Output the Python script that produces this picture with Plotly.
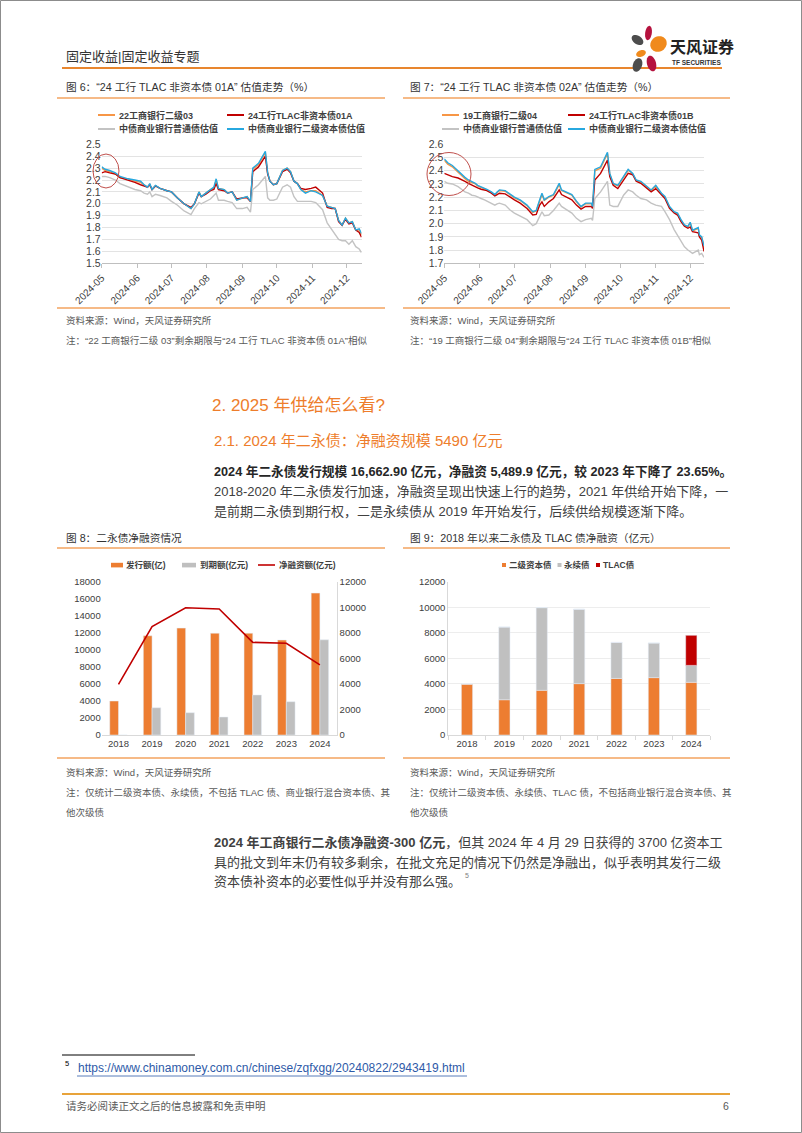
import math
import plotly.graph_objects as go

# ---------------- DATA ----------------
months = ["2024-05-01", "2024-06-01", "2024-07-01", "2024-08-01",
          "2024-09-01", "2024-10-01", "2024-11-01", "2024-12-01"]

# Figure 6
dates1 = ["2024-05-01","2024-05-04","2024-05-08","2024-05-13","2024-05-17","2024-05-24","2024-05-30",
          "2024-06-04","2024-06-07","2024-06-10","2024-06-12","2024-06-14","2024-06-17","2024-06-21","2024-06-27",
          "2024-07-01","2024-07-06","2024-07-12","2024-07-18","2024-07-21","2024-07-25","2024-07-27","2024-07-31",
          "2024-08-04","2024-08-07","2024-08-09","2024-08-11","2024-08-16","2024-08-19","2024-08-23","2024-08-27",
          "2024-09-01","2024-09-05","2024-09-08","2024-09-10","2024-09-15","2024-09-21","2024-09-23","2024-09-25","2024-09-28",
          "2024-10-01","2024-10-06","2024-10-10","2024-10-13","2024-10-16","2024-10-19","2024-10-22","2024-10-26","2024-10-31",
          "2024-11-04","2024-11-10","2024-11-14","2024-11-18","2024-11-21","2024-11-24","2024-11-27","2024-11-30",
          "2024-12-03","2024-12-06","2024-12-09","2024-12-12","2024-12-14"]
icbc22_03 = [2.30,2.28,2.27,2.25,2.22,2.21,2.19,2.18,2.16,2.14,2.16,2.12,2.15,2.13,2.11,2.10,2.05,2.00,1.96,2.00,
             2.10,2.06,2.09,2.12,2.13,2.20,2.13,2.12,2.09,2.10,2.03,2.05,2.06,2.02,2.29,2.33,2.43,2.26,2.19,2.16,
             2.17,2.28,2.30,2.27,2.19,2.17,2.12,2.10,2.11,2.11,2.07,1.98,1.97,1.96,1.86,1.82,1.88,1.84,1.85,1.78,
             1.78,1.74]
tlac01a = [2.26,2.27,2.26,2.25,2.22,2.20,2.18,2.16,2.15,2.14,2.16,2.12,2.15,2.13,2.11,2.10,2.05,2.00,1.97,2.00,
           2.09,2.06,2.08,2.11,2.12,2.17,2.12,2.11,2.09,2.10,2.04,2.05,2.05,2.02,2.27,2.31,2.40,2.25,2.19,2.16,
           2.17,2.27,2.29,2.26,2.19,2.17,2.13,2.12,2.13,2.14,2.09,1.97,1.96,1.96,1.85,1.82,1.87,1.83,1.84,1.78,
           1.76,1.72]
senior1 = [2.23,2.23,2.22,2.20,2.17,2.14,2.12,2.11,2.09,2.08,2.10,2.06,2.08,2.07,2.05,2.02,1.99,1.94,1.91,1.96,
           2.01,2.00,2.02,2.04,2.07,2.09,2.03,2.03,2.02,2.01,1.96,1.96,1.97,1.93,2.12,2.16,2.23,2.05,2.03,2.03,
           2.04,2.14,2.16,2.14,2.06,2.02,2.02,2.02,2.02,2.01,1.95,1.84,1.78,1.74,1.70,1.69,1.69,1.66,1.69,1.64,
           1.62,1.59]
tier2_1 = [2.31,2.29,2.28,2.26,2.23,2.21,2.20,2.19,2.16,2.14,2.17,2.12,2.155,2.13,2.11,2.10,2.05,2.00,1.96,2.00,
           2.10,2.06,2.09,2.12,2.14,2.21,2.13,2.12,2.09,2.10,2.03,2.05,2.06,2.02,2.30,2.34,2.44,2.26,2.19,2.16,
           2.17,2.28,2.30,2.27,2.19,2.17,2.12,2.09,2.11,2.10,2.07,1.98,1.97,1.96,1.86,1.82,1.88,1.84,1.85,1.78,
           1.79,1.75]

# Figure 7
dates2 = ["2024-05-01","2024-05-04","2024-05-08","2024-05-13","2024-05-16","2024-05-19","2024-05-22","2024-05-25","2024-05-28","2024-05-30",
          "2024-06-02","2024-06-05","2024-06-07","2024-06-11","2024-06-14","2024-06-16","2024-06-18","2024-06-23","2024-06-27",
          "2024-07-01","2024-07-06","2024-07-12","2024-07-17","2024-07-20","2024-07-23","2024-07-25","2024-07-27","2024-07-31",
          "2024-08-04","2024-08-09","2024-08-11","2024-08-15","2024-08-20","2024-08-24","2024-08-28",
          "2024-09-01","2024-09-06","2024-09-07","2024-09-09","2024-09-14","2024-09-20","2024-09-22","2024-09-25","2024-09-29",
          "2024-10-04","2024-10-08","2024-10-12","2024-10-15","2024-10-19","2024-10-24","2024-10-28",
          "2024-11-01","2024-11-06","2024-11-09","2024-11-13","2024-11-17","2024-11-20","2024-11-23","2024-11-26","2024-11-29",
          "2024-12-01","2024-12-03","2024-12-08","2024-12-09","2024-12-11","2024-12-13"]
icbc19_04 = [2.48,2.45,2.43,2.39,2.36,2.34,2.32,2.31,2.30,2.285,2.275,2.265,2.255,2.235,2.215,2.235,2.25,2.245,2.22,2.195,
             2.175,2.135,2.085,2.095,2.17,2.22,2.175,2.20,2.215,2.295,2.25,2.235,2.215,2.165,2.125,2.15,2.15,2.125,2.40,2.42,
             2.53,2.375,2.30,2.285,2.355,2.405,2.375,2.325,2.315,2.275,2.25,2.285,2.225,2.20,2.125,2.085,2.075,2.025,1.985,1.975,
             2.005,1.945,1.965,1.91,1.895,1.825]
tlac01b = [2.38,2.37,2.355,2.345,2.335,2.32,2.305,2.29,2.28,2.27,2.26,2.255,2.25,2.23,2.21,2.22,2.23,2.225,2.20,2.18,
           2.155,2.115,2.065,2.07,2.14,2.165,2.13,2.165,2.19,2.255,2.22,2.205,2.18,2.14,2.11,2.13,2.13,2.115,2.33,2.38,
           2.48,2.355,2.29,2.265,2.33,2.38,2.37,2.32,2.305,2.265,2.24,2.265,2.215,2.19,2.115,2.08,2.065,2.015,1.98,1.965,
           1.975,1.94,1.93,1.90,1.875,1.79]
senior2 = [2.32,2.305,2.30,2.28,2.26,2.24,2.23,2.215,2.21,2.20,2.19,2.18,2.17,2.155,2.14,2.15,2.155,2.14,2.105,2.08,
           2.055,2.03,1.985,2.00,2.055,2.09,2.06,2.065,2.10,2.155,2.13,2.105,2.08,2.04,2.015,2.03,2.04,2.025,2.19,2.24,
           2.32,2.14,2.13,2.13,2.215,2.255,2.24,2.215,2.19,2.18,2.155,2.14,2.13,2.09,2.03,1.955,1.915,1.875,1.825,1.80,
           1.79,1.775,1.80,1.765,1.775,1.745]
tier2_2 = [2.49,2.46,2.44,2.40,2.37,2.35,2.33,2.32,2.305,2.29,2.28,2.27,2.26,2.24,2.22,2.24,2.255,2.25,2.225,2.20,
           2.18,2.14,2.09,2.10,2.18,2.23,2.18,2.205,2.22,2.305,2.255,2.24,2.22,2.17,2.13,2.155,2.155,2.13,2.41,2.43,
           2.54,2.38,2.305,2.29,2.36,2.41,2.38,2.33,2.32,2.28,2.255,2.29,2.23,2.205,2.13,2.09,2.08,2.03,1.99,1.98,
           2.01,1.95,1.97,1.915,1.90,1.83]

# Figure 8
years = ["2018", "2019", "2020", "2021", "2022", "2023", "2024"]
issuance = [3990, 11650, 12550, 11950, 11950, 11150, 16662.9]
maturity = [0, 3200, 2620, 2110, 4700, 3910, 11173]
net_financing = [3970, 8480, 9960, 9860, 7250, 7180, 5489.9]

# Figure 9
tier2_net = [3990, 2760, 3500, 4020, 4430, 4490, 4120]
perp_net = [0, 5690, 6470, 5820, 2820, 2710, 1330]
tlac_net = [0, 0, 0, 0, 0, 0, 2350]

# ---------------- HELPERS ----------------
W, H = 802, 1133
FONT = "Liberation Sans, Noto Sans CJK SC, sans-serif"
CJK = "Noto Sans CJK SC, sans-serif"
ORANGE = "#ED7D31"
RED = "#C00000"
GRAY = "#BFBFBF"
BLUE = "#27A8DF"
LORANGE = "#F79646"
TXT = "#404040"

def px(x):
    return x / W

def py(y):
    return 1 - y / H

ann = []
shp = []

def text(x, y, s, size=10, color=TXT, anchor="left", family=FONT):
    ann.append(dict(x=px(x), y=py(y), xref="paper", yref="paper", text=s, showarrow=False,
                    xanchor=anchor, yanchor="middle", borderpad=0,
                    font=dict(size=size, color=color, family=family)))

def line(x0, y0, x1, y1, color, width=1):
    shp.append(dict(type="line", xref="paper", yref="paper", x0=px(x0), y0=py(y0),
                    x1=px(x1), y1=py(y1), line=dict(color=color, width=width)))

def rect(x0, y0, x1, y1, fill, lc=None, lw=0):
    shp.append(dict(type="rect", xref="paper", yref="paper", x0=px(x0), y0=py(y0),
                    x1=px(x1), y1=py(y1), fillcolor=fill,
                    line=dict(color=lc or fill, width=lw)))

def ellipse(cx, cy, rx, ry, color, width=1):
    shp.append(dict(type="circle", xref="paper", yref="paper", x0=px(cx - rx), x1=px(cx + rx),
                    y0=py(cy + ry), y1=py(cy - ry), line=dict(color=color, width=width)))

def petal(cx, cy, rx, ry, ang, color):
    pts = []
    a = math.radians(ang)
    for k in range(36):
        t = 2 * math.pi * k / 36
        ex, ey = rx * math.cos(t), ry * math.sin(t)
        x = cx + ex * math.cos(a) - ey * math.sin(a)
        y = cy + ex * math.sin(a) + ey * math.cos(a)
        pts.append((px(x), py(y)))
    path = "M " + " L ".join(f"{x:.5f},{y:.5f}" for x, y in pts) + " Z"
    shp.append(dict(type="path", xref="paper", yref="paper", path=path,
                    fillcolor=color, line=dict(width=0)))

fig = go.Figure()

# ---------------- TRACES ----------------
for vals, col in [(icbc22_03, LORANGE), (tlac01a, RED), (senior1, "#C3C3C3"), (tier2_1, BLUE)]:
    fig.add_trace(go.Scatter(x=dates1, y=vals, mode="lines", line=dict(color=col, width=1.4),
                             xaxis="x", yaxis="y", hoverinfo="skip"))
for vals, col in [(icbc19_04, LORANGE), (tlac01b, RED), (senior2, "#C3C3C3"), (tier2_2, BLUE)]:
    fig.add_trace(go.Scatter(x=dates2, y=vals, mode="lines", line=dict(color=col, width=1.4),
                             xaxis="x2", yaxis="y2", hoverinfo="skip"))

fig.add_trace(go.Bar(x=years, y=issuance, marker_color=ORANGE, width=0.26, offset=-0.26,
                     xaxis="x3", yaxis="y3", hoverinfo="skip"))
fig.add_trace(go.Bar(x=years, y=maturity, marker_color=GRAY, width=0.26, offset=0,
                     xaxis="x3", yaxis="y3", hoverinfo="skip"))
fig.add_trace(go.Scatter(x=years, y=net_financing, mode="lines", line=dict(color=RED, width=1.6),
                         xaxis="x3", yaxis="y5", hoverinfo="skip"))

base_perp = list(tier2_net)
base_tlac = [a + b for a, b in zip(tier2_net, perp_net)]
fig.add_trace(go.Bar(x=years, y=tier2_net, base=0, marker_color=ORANGE, width=0.3, offset=-0.15,
                     xaxis="x4", yaxis="y4", hoverinfo="skip"))
fig.add_trace(go.Bar(x=years, y=perp_net, base=base_perp, marker_color="#C0C0C0", width=0.3, offset=-0.15,
                     xaxis="x4", yaxis="y4", hoverinfo="skip"))
fig.add_trace(go.Bar(x=years, y=tlac_net, base=base_tlac, marker_color=RED, width=0.3, offset=-0.15,
                     xaxis="x4", yaxis="y4", hoverinfo="skip"))

# ---------------- AXES ----------------
tickf = dict(size=10, color=TXT, family=FONT)
def date_x(dom, anchor, rng):
    return dict(domain=dom, anchor=anchor, type="date", range=rng, tickvals=months,
                tickformat="%Y-%m", tickangle=-45, ticks="outside", ticklen=4, tickcolor="#BFBFBF",
                showline=True, linecolor="#BFBFBF", showgrid=False, zeroline=False, tickfont=tickf,
                fixedrange=True, automargin=False)

def val_y(dom, anchor, rng, t0):
    return dict(domain=dom, anchor=anchor, range=rng, tick0=t0, dtick=0.1, tickformat=".1f",
                showgrid=True, gridcolor="#E3E3E3", gridwidth=1, showline=False, zeroline=False,
                tickfont=dict(size=10.5, color=TXT, family=FONT), fixedrange=True, automargin=False)

bfont = dict(size=9.5, color=TXT, family=FONT)
layout = dict(
    width=W, height=H, margin=dict(l=0, r=0, t=0, b=0, pad=0, autoexpand=False),
    paper_bgcolor="white", plot_bgcolor="white", showlegend=False, barmode="overlay",
    xaxis=date_x([px(101.7), px(361.5)], "y", ["2024-05-01", "2024-12-14"]),
    yaxis=val_y([py(263.3), py(144.3)], "x", [1.5, 2.5], 1.5),
    xaxis2=date_x([px(444.3), px(704)], "y2", ["2024-05-01", "2024-12-13"]),
    yaxis2=val_y([py(263.3), py(144.3)], "x2", [1.7, 2.6], 1.7),
    xaxis3=dict(domain=[px(101.7), px(336.7)], anchor="y3", type="category", range=[-0.5, 6.5],
                showline=True, linecolor="#D9D9D9", ticks="", tickfont=bfont,
                fixedrange=True, automargin=False),
    yaxis3=dict(domain=[py(735), py(581.7)], anchor="x3", range=[0, 18000], dtick=2000, tickformat="d",
                showgrid=False, showline=False, zeroline=False,
                tickfont=bfont, fixedrange=True, automargin=False),
    yaxis5=dict(overlaying="y3", anchor="x3", side="right", range=[0, 12000], dtick=2000, tickformat="d",
                showgrid=False, showline=True, linecolor="#D9D9D9", zeroline=False,
                tickfont=bfont, fixedrange=True, automargin=False),
    xaxis4=dict(domain=[px(448.3), px(710)], anchor="y4", type="category", range=[-0.5, 6.5],
                showline=True, linecolor="#D9D9D9", ticks="outside", tickson="boundaries", ticklen=4,
                tickcolor="#D9D9D9", tickfont=bfont, fixedrange=True, automargin=False),
    yaxis4=dict(domain=[py(735), py(581.7)], anchor="x4", range=[0, 12000], dtick=2000, tickformat="d",
                showgrid=True, gridcolor="#EDEDED", showline=True, linecolor="#D9D9D9", zeroline=False,
                tickfont=bfont, fixedrange=True, automargin=False),
)

# ---------------- PAGE DECORATION ----------------
rect(0.5, 0.5, 801.5, 1132.5, "rgba(0,0,0,0)", "#8C8C8C", 1)

# header
text(65, 57, "固定收益|固定收益专题", 13, "#333333")
line(62, 68, 722, 68, "#E8862E", 1.8)
petal(637.5, 40, 6.5, 4.2, 35, "#4D4D4D")
petal(648.5, 33, 3.3, 7.2, 8, "#B5123E")
petal(658.5, 44, 8.5, 7.5, -35, "#F08A1C")
petal(641, 53.5, 5, 3.2, -20, "#F08A1C")
petal(637.5, 65, 4.5, 7, 20, "#4D4D4D")
petal(651.5, 63.5, 4.5, 8, -15, "#B5123E")
text(669, 46, "<b>天风证券</b>", 16, "#222222", family=CJK)
text(671, 62.5, "<b>TF SECURITIES</b>", 6.5, "#333333")

# figure 6 / 7 frames
ORL = "#F3A35F"
text(65, 87, "图 6：“24 工行 TLAC 非资本债 01A” 估值走势（%）", 10.7, "#333333")
text(409, 87, "图 7：“24 工行 TLAC 非资本债 02A” 估值走势（%）", 10.7, "#333333")
line(57, 98, 385, 98, ORL, 1.5)
line(403, 98, 730, 98, ORL, 1.5)
line(57, 308, 385, 308, ORL, 1.5)
line(403, 308, 730, 308, ORL, 1.5)
text(65, 320, "资料来源：Wind，天风证券研究所", 9.5, "#595959")
text(65, 340, "注：“22 工商银行二级 03”剩余期限与“24 工行 TLAC 非资本债 01A”相似", 9.5, "#595959")
text(409, 320, "资料来源：Wind，天风证券研究所", 9.5, "#595959")
text(409, 340, "注：“19 工商银行二级 04”剩余期限与“24 工行 TLAC 非资本债 01B”相似", 9.5, "#595959")

# legends figure 6 / 7
for (x0, y0, col, lab) in [(98, 115, LORANGE, "22工商银行二级03"), (227, 115, RED, "24工行TLAC非资本债01A"),
                           (98, 129, "#C3C3C3", "中债商业银行普通债估值"), (227, 129, BLUE, "中债商业银行二级资本债估值"),
                           (442, 115, LORANGE, "19工商银行二级04"), (568, 115, RED, "24工行TLAC非资本债01B"),
                           (442, 129, "#C3C3C3", "中债商业银行普通债估值"), (568, 129, BLUE, "中债商业银行二级资本债估值")]:
    line(x0, y0, x0 + 17, y0, col, 2)
    text(x0 + 20, y0, "<b>" + lab + "</b>", 9, TXT)

ellipse(106, 171, 13, 17, "#C0504D", 1)
ellipse(449, 174, 22, 21.5, "#C0504D", 1)

# section text
OR2 = "#EE7D2B"
text(211, 406, "2. 2025 年供给怎么看?", 17, OR2)
text(213, 440, "2.1. 2024 年二永债：净融资规模 5490 亿元", 15, OR2)
text(213, 471, "<b>2024 年二永债发行规模 16,662.90 亿元，净融资 5,489.9 亿元，较 2023 年下降了 23.65%。</b>", 12.7, "#262626")
text(213, 491, "2018-2020 年二永债发行加速，净融资呈现出快速上行的趋势，2021 年供给开始下降，一", 13, TXT)
text(213, 511, "是前期二永债到期行权，二是永续债从 2019 年开始发行，后续供给规模逐渐下降。", 13, TXT)

# figure 8 / 9 frames
text(65, 538, "图 8：二永债净融资情况", 10.7, "#333333")
text(409, 538, "图 9：2018 年以来二永债及 TLAC 债净融资（亿元）", 10.7, "#333333")
line(57, 548, 385, 548, ORL, 1.5)
line(403, 548, 730, 548, ORL, 1.5)
line(57, 758, 385, 758, ORL, 1.5)
line(403, 758, 730, 758, ORL, 1.5)
text(65, 772, "资料来源：Wind，天风证券研究所", 9.5, "#595959")
text(65, 792, "注：仅统计二级资本债、永续债，不包括 TLAC 债、商业银行混合资本债、其", 9.5, "#595959")
text(65, 812, "他次级债", 9.5, "#595959")
text(409, 772, "资料来源：Wind，天风证券研究所", 9.5, "#595959")
text(409, 792, "注：仅统计二级资本债、永续债、TLAC 债，不包括商业银行混合资本债、其", 9.5, "#595959")
text(409, 812, "他次级债", 9.5, "#595959")

# legends figure 8
rect(111, 562.8, 123, 567.4, ORANGE)
text(125, 565, "<b>发行额(亿)</b>", 8.5, TXT)
rect(182, 562.8, 196, 567.4, GRAY)
text(199, 565, "<b>到期额(亿元)</b>", 8.5, TXT)
line(258, 565, 275, 565, RED, 1.6)
text(278, 565, "<b>净融资额(亿元)</b>", 8.5, TXT)
# legends figure 9
rect(502, 563, 506, 567, ORANGE)
text(507.5, 565, "<b>二级资本债</b>", 8.5, TXT)
rect(557.5, 563, 561.5, 567, "#C0C0C0")
text(563, 565, "<b>永续债</b>", 8.5, TXT)
rect(596, 563, 600, 567, RED)
text(601.5, 565, "<b>TLAC债</b>", 8.5, TXT)

# paragraph 2
text(213, 842, "<b>2024 年工商银行二永债净融资-300 亿元</b>，但其 2024 年 4 月 29 日获得的 3700 亿资本工", 13, TXT)
text(213, 862, "具的批文到年末仍有较多剩余，在批文充足的情况下仍然是净融出，似乎表明其发行二级", 13, TXT)
text(213, 881, "资本债补资本的必要性似乎并没有那么强。", 13, TXT)
text(464, 875, "5", 7, "#7F7F7F")

# footnote
line(62, 1055, 195, 1055, "#000000", 1)
text(64, 1063, "5", 7.5, "#000000")
text(77, 1068, "https://www.chinamoney.com.cn/chinese/zqfxgg/20240822/2943419.html", 12, "#2E5AA8")
line(77, 1076, 467, 1076, "#2E5AA8", 0.8)

# footer
line(62, 1094, 730, 1094, "#E8A33A", 2)
text(65, 1106, "请务必阅读正文之后的信息披露和免责申明", 10.5, "#595959")
text(730, 1106, "6", 10.5, "#595959", anchor="right")

layout["annotations"] = ann
layout["shapes"] = shp
fig.update_layout(**layout)
fig.write_html("out.html", config={"displayModeBar": False},
               post_script="document.body.style.margin='0px';document.body.style.overflow='hidden';")
